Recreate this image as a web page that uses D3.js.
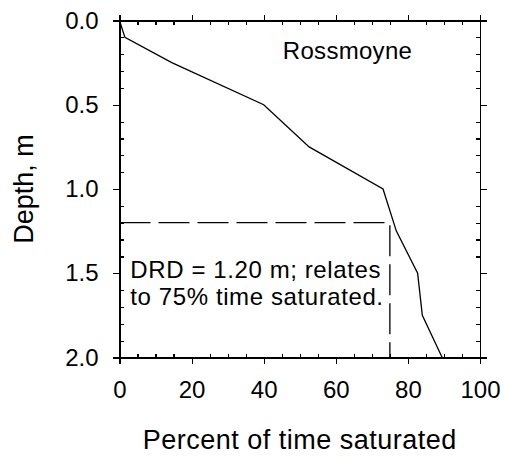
<!doctype HTML>
<html lang="en">
<head>
<title>Rossmoyne - percent of time saturated by depth</title>
<script src="https://d3js.org/d3.v7.min.js"></script>
<style type="text/css">
  body { margin: 0; background: #fff; }
  .axis path,
  .axis line {
	fill: none;
	stroke: black;
	stroke-width: 1.2px;
	shape-rendering: crispEdges;
  }
  .axis text {
	font-family: "Liberation Sans", Arial, sans-serif;
	font-size: 24px;
	fill: black;
  }
  .label {
	font-family: "Liberation Sans", Arial, sans-serif;
	fill: black;
  }
</style>
</head>
<body>
<script type="text/javascript">

// values
var percentSaturated = [0, 1.5, 14.5, 40, 52.6, 73.1, 76.8, 82.7, 84, 89.5];
var depthM = [0, 0.1, 0.25, 0.5, 0.75, 1.0, 1.25, 1.5, 1.75, 2.0];

var xMajorTicks = [0, 20, 40, 60, 80, 100];
var xMinorTicks = [5, 10, 15, 25, 30, 35, 45, 50, 55, 65, 70, 75, 85, 90, 95];
var yMajorTicks = [0, 0.5, 1.0, 1.5, 2.0];
var yMinorTicks = [0.1, 0.2, 0.3, 0.4, 0.6, 0.7, 0.8, 0.9, 1.1, 1.2, 1.3, 1.4, 1.6, 1.7, 1.8, 1.9];

var drdDepth = 1.2;
var drdPercent = 75;
var siteName = "Rossmoyne";
var drdLines = ["DRD = 1.20 m; relates", "to 75% time saturated."];

var margin = {top: 20.5, right: 25, bottom: 99.5, left: 119.5},
    width = 505 - margin.left - margin.right,
    height = 457 - margin.top - margin.bottom;

var svg = d3.select("body").append("svg")
	.attr("width", 505)
	.attr("height", 457);

var g = svg.append("g")
	.attr("transform", "translate(" + margin.left + "," + margin.top + ")");

var x = d3.scaleLinear().domain([0, 100]).range([0, width]);
var y = d3.scaleLinear().domain([0, 2]).range([0, height]);

// bottom axis: labelled majors outward, minors inward
g.append("g")
	.attr("class", "axis")
	.attr("transform", "translate(0," + height + ")")
	.call(d3.axisBottom(x).tickValues(xMajorTicks).tickSize(6).tickSizeOuter(0).tickPadding(17)
		.tickFormat(d3.format("d")));
g.append("g")
	.attr("class", "axis")
	.attr("transform", "translate(0," + height + ")")
	.call(d3.axisBottom(x).tickValues(xMinorTicks).tickSize(-4).tickSizeOuter(0).tickFormat(""));

// top axis, no labels
g.append("g")
	.attr("class", "axis")
	.call(d3.axisTop(x).tickValues(xMajorTicks).tickSize(6).tickSizeOuter(0).tickFormat(""));
g.append("g")
	.attr("class", "axis")
	.call(d3.axisTop(x).tickValues(xMinorTicks).tickSize(-4).tickSizeOuter(0).tickFormat(""));

// left axis
g.append("g")
	.attr("class", "axis")
	.call(d3.axisLeft(y).tickValues(yMajorTicks).tickSize(7).tickSizeOuter(0).tickPadding(14)
		.tickFormat(d3.format(".1f")));
g.append("g")
	.attr("class", "axis")
	.call(d3.axisLeft(y).tickValues(yMinorTicks).tickSize(-4).tickSizeOuter(0).tickFormat(""));

// right axis
g.append("g")
	.attr("class", "axis")
	.attr("transform", "translate(" + width + ",0)")
	.call(d3.axisRight(y).tickValues(yMajorTicks).tickSize(7).tickSizeOuter(0).tickFormat(""));
g.append("g")
	.attr("class", "axis")
	.attr("transform", "translate(" + width + ",0)")
	.call(d3.axisRight(y).tickValues(yMinorTicks).tickSize(-4).tickSizeOuter(0).tickFormat(""));

// the profile line
var profile = percentSaturated.map(function(p, i) { return {p: p, d: depthM[i]}; });

g.append("path")
	.datum(profile)
	.attr("fill", "none")
	.attr("stroke", "black")
	.attr("stroke-width", 1.3)
	.attr("d", d3.line()
		.x(function(d) { return x(d.p); })
		.y(function(d) { return y(d.d); }));

// DRD dashed guide
var guide = [{p: 0, d: drdDepth}, {p: drdPercent, d: drdDepth}, {p: drdPercent, d: 2}];
g.append("path")
	.datum(guide)
	.attr("fill", "none")
	.attr("stroke", "black")
	.attr("stroke-width", 1.3)
	.attr("stroke-dasharray", "31,8")
	.attr("d", d3.line()
		.x(function(d) { return x(d.p); })
		.y(function(d) { return y(d.d); }));

// annotations
g.append("text")
	.attr("class", "label")
	.attr("x", x(45.3))
	.attr("y", y(0.228))
	.style("font-size", "24px")
	.style("letter-spacing", "0.3px")
	.text(siteName);

g.selectAll("text.drd")
	.data(drdLines)
	.enter()
	.append("text")
	.attr("class", "label drd")
	.attr("x", x(3))
	.attr("y", function(d, i) { return y(1.5) + 5 + i * 27; })
	.style("font-size", "24px")
	.style("letter-spacing", "0.6px")
	.text(function(d) { return d; });

// axis titles
svg.append("text")
	.attr("class", "label")
	.attr("x", margin.left + width / 2)
	.attr("y", 449)
	.attr("text-anchor", "middle")
	.style("font-size", "27px")
	.style("letter-spacing", "0.5px")
	.text("Percent of time saturated");

svg.append("text")
	.attr("class", "label")
	.attr("transform", "translate(33," + (margin.top + height / 2) + ") rotate(-90)")
	.attr("text-anchor", "middle")
	.style("font-size", "27px")
	.text("Depth, m");

</script>
</body>
</html>
